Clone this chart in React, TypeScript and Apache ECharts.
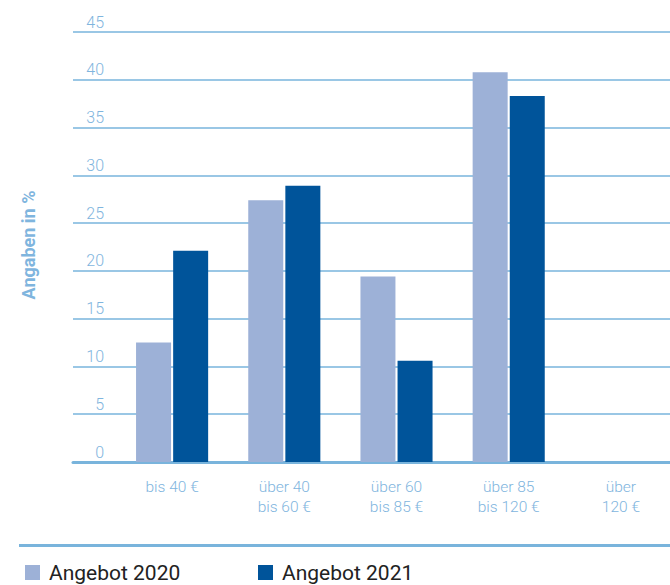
import React, { useEffect, useRef } from "react";
import * as echarts from "echarts";

const categories = ["bis 40 €", "über 40\nbis 60 €", "über 60\nbis 85 €", "über 85\nbis 120 €", "über\n120 €"];
const angebot2020 = [12.5, 27.4, 19.4, 40.8, 0];
const angebot2021 = [22.1, 28.9, 10.6, 38.3, 0];
const seriesNames = ["Angebot 2020", "Angebot 2021"];
const yAxisName = "Angaben in %";

const LINE = "#79b4dc";
const LABEL = "#7fb5de";
const C2020 = "#9db1d7";
const C2021 = "#00549a";
const FONT = "Roboto, 'Noto Sans', sans-serif";

export default function App() {
  const ref = useRef<HTMLDivElement>(null);
  useEffect(() => {
    if (!ref.current) return;
    const chart = echarts.init(ref.current, null, { renderer: "svg" });
    chart.setOption({
      animation: false,
      backgroundColor: "#ffffff",
      textStyle: { fontFamily: FONT },
      grid: [
        { left: 116, top: 32, width: 561, height: 430, containLabel: false },
        { left: 73, top: 32, width: 597, height: 430, containLabel: false },
      ],
      xAxis: [
        {
          type: "category",
          gridIndex: 0,
          data: categories,
          axisLine: { show: false },
          axisTick: { show: false },
          axisLabel: {
            color: LABEL,
            fontSize: 15.5,
            lineHeight: 20,
            margin: 15,
            fontFamily: FONT,
            fontWeight: 300,
          },
        },
        {
          type: "category",
          gridIndex: 1,
          data: [""],
          axisLine: { show: true, lineStyle: { color: LINE, width: 3 } },
          axisTick: { show: false },
          axisLabel: { show: false },
        },
      ],
      yAxis: [
        {
          type: "value",
          gridIndex: 0,
          min: 0,
          max: 45,
          interval: 5,
          show: false,
        },
        {
          type: "value",
          gridIndex: 1,
          min: 0,
          max: 45,
          interval: 5,
          axisLine: { show: false },
          axisTick: { show: false },
          splitLine: { show: true, lineStyle: { color: LINE, width: 1.5 } },
          axisLabel: {
            inside: true,
            margin: 31,
            align: "right",
            verticalAlign: "bottom",
            padding: [0, 0, 2, 0],
            color: LABEL,
            fontSize: 16,
            fontFamily: FONT,
            fontWeight: 300,
          },
        },
      ],
      legend: [
        {
          left: 20,
          top: 557,
          itemWidth: 15,
          itemHeight: 15,
          itemGap: 14,
          icon: "rect",
          data: [seriesNames[0]],
          textStyle: { fontSize: 21, color: "#222222", fontFamily: FONT, padding: [0, 0, 0, 4] },
        },
        {
          left: 253,
          top: 557,
          itemWidth: 15,
          itemHeight: 15,
          icon: "rect",
          data: [seriesNames[1]],
          textStyle: { fontSize: 21, color: "#222222", fontFamily: FONT, padding: [0, 0, 0, 4] },
        },
      ],
      graphic: [
        {
          type: "text",
          x: 28,
          y: 245,
          rotation: Math.PI / 2,
          style: {
            text: yAxisName,
            fill: LABEL,
            font: `bold 18px ${FONT}`,
            align: "center",
            verticalAlign: "middle",
          },
        },
        {
          type: "line",
          shape: { x1: 19, y1: 545.5, x2: 670, y2: 545.5 },
          style: { stroke: LINE, lineWidth: 3 },
        },
      ],
      series: [
        {
          name: seriesNames[0],
          type: "bar",
          xAxisIndex: 0,
          yAxisIndex: 0,
          data: angebot2020,
          barWidth: 35,
          barGap: "6%",
          itemStyle: { color: C2020 },
        },
        {
          name: seriesNames[1],
          type: "bar",
          xAxisIndex: 0,
          yAxisIndex: 0,
          data: angebot2021,
          barWidth: 35,
          barGap: "6%",
          itemStyle: { color: C2021 },
        },
      ],
    });
    return () => chart.dispose();
  }, []);
  return (
    <div style={{ position: "fixed", left: 0, top: 0, width: 670, height: 585, overflow: "hidden" }}>
      <div ref={ref} style={{ position: "absolute", left: 0, top: 0, width: 700, height: 585 }} />
    </div>
  );
}
